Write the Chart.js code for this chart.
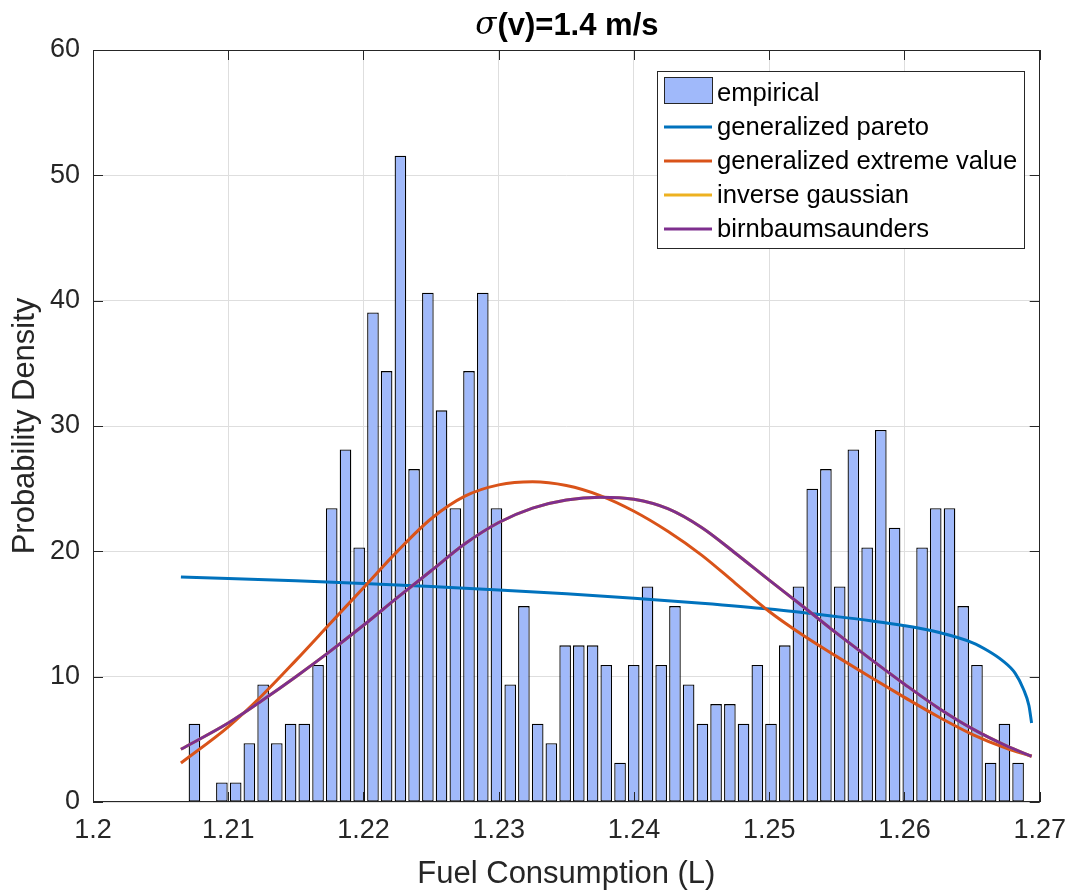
<!DOCTYPE html>
<html>
<head>
<meta charset="utf-8">
<script src="https://cdn.jsdelivr.net/npm/chart.js@4.4.1/dist/chart.umd.min.js"></script>
<style>
html,body{margin:0;padding:0;background:#ffffff;}
#wrap{width:1078px;height:895px;}
</style>
</head>
<body>
<div id="wrap"><canvas id="c" width="1078" height="895"></canvas></div>
<script>
// ---------- DATA ----------
const titleItalic = 'σ';
const titleRest = '(v)=1.4 m/s';
const xAxisTitle = 'Fuel Consumption (L)';
const yAxisTitle = 'Probability Density';
const seriesNames = ['empirical', 'generalized pareto', 'generalized extreme value', 'inverse gaussian', 'birnbaumsaunders'];

const binCenters = [
  1.20750, 1.20852, 1.20953, 1.21055, 1.21156, 1.21258, 1.21359, 1.21461, 1.21562, 1.21664,
  1.21765, 1.21867, 1.21968, 1.22070, 1.22171, 1.22273, 1.22374, 1.22476, 1.22577, 1.22679,
  1.22780, 1.22882, 1.22983, 1.23085, 1.23186, 1.23288, 1.23389, 1.23491, 1.23592, 1.23694,
  1.23795, 1.23897, 1.23998, 1.24100, 1.24201, 1.24303, 1.24404, 1.24506, 1.24607, 1.24709,
  1.24810, 1.24912, 1.25013, 1.25115, 1.25216, 1.25318, 1.25419, 1.25521, 1.25622, 1.25724,
  1.25825, 1.25927, 1.26028, 1.26130, 1.26231, 1.26333, 1.26434, 1.26536, 1.26637, 1.26739,
  1.26840
];
const empiricalDensity = [
  6.25, 0, 1.56, 1.56, 4.69, 9.38, 4.69, 6.25, 6.25, 10.94,
  23.44, 28.13, 20.31, 39.06, 34.38, 51.56, 26.56, 40.63, 31.25, 23.44,
  34.38, 40.63, 23.44, 9.38, 15.63, 6.25, 4.69, 12.5, 12.5, 12.5,
  10.94, 3.13, 10.94, 17.19, 10.94, 15.63, 9.38, 6.25, 7.81, 7.81,
  6.25, 10.94, 6.25, 12.5, 17.19, 25.0, 26.56, 17.19, 28.13, 20.31,
  29.69, 21.88, 14.06, 20.31, 23.44, 23.44, 15.63, 10.94, 3.13, 6.25,
  3.13
];

const paretoX = [1.2065, 1.2100, 1.2150, 1.2200, 1.2250, 1.2300, 1.2350, 1.2400, 1.2450, 1.2500,
                 1.2550, 1.2575, 1.2600, 1.2625, 1.2650, 1.2662, 1.2672, 1.2682, 1.2688, 1.2692,
                 1.2694];
const paretoY = [17.96, 17.84, 17.65, 17.44, 17.20, 16.92, 16.61, 16.26, 15.86, 15.39,
                 14.79, 14.46, 14.07, 13.54, 12.72, 12.05, 11.32, 10.25, 9.00, 7.70,
                 6.30];

const fitX = [1.2065, 1.2100, 1.2125, 1.2150, 1.2175, 1.2200, 1.2225, 1.2250, 1.2275, 1.2300,
              1.2325, 1.2350, 1.2375, 1.2400, 1.2425, 1.2450, 1.2475, 1.2500, 1.2525, 1.2550,
              1.2575, 1.2600, 1.2625, 1.2650, 1.2675, 1.2694];
const gevY = [3.11, 6.00, 8.50, 11.30, 14.20, 17.10, 20.00, 22.60, 24.40, 25.30,
              25.55, 25.25, 24.45, 23.20, 21.60, 19.70, 17.45, 15.20, 13.30, 11.60,
              9.95, 8.35, 6.80, 5.40, 4.30, 3.65];
const invGaussY = [4.21, 6.30, 8.10, 10.00, 12.00, 14.10, 16.30, 18.45, 20.60, 22.30,
                   23.45, 24.10, 24.32, 24.15, 23.40, 21.90, 19.85, 17.70, 15.60, 13.45,
                   11.40, 9.40, 7.50, 5.85, 4.50, 3.65];
const birnbaumY = [4.21, 6.30, 8.10, 10.00, 12.00, 14.10, 16.30, 18.45, 20.60, 22.30,
                   23.45, 24.10, 24.32, 24.15, 23.40, 21.90, 19.85, 17.70, 15.60, 13.45,
                   11.40, 9.40, 7.50, 5.85, 4.50, 3.65];

const xTickValues = [1.2, 1.21, 1.22, 1.23, 1.24, 1.25, 1.26, 1.27];
const xTickLabels = ['1.2', '1.21', '1.22', '1.23', '1.24', '1.25', '1.26', '1.27'];
const yTickValues = [0, 10, 20, 30, 40, 50, 60];
const yTickLabels = ['0', '10', '20', '30', '40', '50', '60'];

// ---------- STYLE ----------
const FONT = '"Liberation Sans", Arial, Helvetica, sans-serif';
const AX = '#262626';
const colors = {
  barFill: '#a0b9fa', barEdge: '#000000',
  pareto: '#0072BD', gev: '#D95319', invg: '#EDB120', bs: '#7E2F8E'
};

const pts = (xs, ys) => xs.map((v, i) => ({x: v, y: ys[i]}));

const decor = {
  id: 'decor',
  afterDraw(chart) {
    const {ctx, chartArea: a, scales: {x, y}} = chart;
    ctx.save();
    // axes box
    ctx.strokeStyle = AX; ctx.lineWidth = 1;
    ctx.strokeRect(Math.round(a.left) + 0.5, Math.round(a.top) + 0.5,
                   Math.round(a.right - a.left) - 1, Math.round(a.bottom - a.top) - 1);
    // inward ticks on all four sides
    ctx.beginPath();
    xTickValues.forEach(v => {
      const px = Math.round(x.getPixelForValue(v)) + 0.5;
      ctx.moveTo(px, a.bottom); ctx.lineTo(px, a.bottom - 10);
      ctx.moveTo(px, a.top); ctx.lineTo(px, a.top + 10);
    });
    yTickValues.forEach(v => {
      const py = Math.round(y.getPixelForValue(v)) + 0.5;
      ctx.moveTo(a.left, py); ctx.lineTo(a.left + 10, py);
      ctx.moveTo(a.right, py); ctx.lineTo(a.right - 10, py);
    });
    ctx.stroke();

    // title
    ctx.fillStyle = '#000';
    ctx.textBaseline = 'middle';
    const fItal = 'italic 31px "DejaVu Serif", "Liberation Serif", serif';
    const fBold = 'bold 31px ' + FONT;
    ctx.font = fItal; const w1 = ctx.measureText(titleItalic).width;
    ctx.font = fBold; const w2 = ctx.measureText(titleRest).width;
    const cx = (a.left + a.right) / 2;
    let sx = cx - (w1 + w2) / 2;
    ctx.textAlign = 'left';
    ctx.font = fItal; ctx.fillText(titleItalic, sx, 26);
    ctx.font = fBold; ctx.fillText(titleRest, sx + w1 + 1, 26);

    // axis titles
    ctx.fillStyle = AX;
    ctx.font = '31px ' + FONT;
    ctx.textAlign = 'center';
    ctx.fillText(xAxisTitle, cx, 874);
    ctx.save();
    ctx.translate(25, (a.top + a.bottom) / 2);
    ctx.rotate(-Math.PI / 2);
    ctx.fillText(yAxisTitle, 0, 0);
    ctx.restore();

    // legend
    const L = 657, T = 71, R = 1024, B = 248;
    ctx.fillStyle = '#ffffff';
    ctx.fillRect(L, T, R - L, B - T);
    ctx.strokeStyle = AX; ctx.lineWidth = 1;
    ctx.strokeRect(L + 0.5, T + 0.5, R - L, B - T);
    const rows = [93, 127, 161, 195, 229];
    const lineCols = [null, colors.pareto, colors.gev, colors.invg, colors.bs];
    ctx.font = '25.6px ' + FONT;
    ctx.textAlign = 'left';
    ctx.textBaseline = 'middle';
    rows.forEach((ry, i) => {
      if (i === 0) {
        ctx.fillStyle = colors.barFill;
        ctx.fillRect(664, 77, 48, 26);
        ctx.strokeStyle = '#262626'; ctx.lineWidth = 1;
        ctx.strokeRect(664.5, 77.5, 48, 26);
      } else {
        ctx.strokeStyle = lineCols[i]; ctx.lineWidth = 3;
        ctx.beginPath(); ctx.moveTo(664, ry); ctx.lineTo(712, ry); ctx.stroke();
      }
      ctx.fillStyle = '#000';
      ctx.fillText(seriesNames[i], 717, ry + 1);
    });
    ctx.restore();
  }
};

new Chart(document.getElementById('c'), {
  type: 'bar',
  data: {
    datasets: [
      {
        type: 'bar', label: seriesNames[0], data: pts(binCenters, empiricalDensity),
        backgroundColor: colors.barFill, borderColor: colors.barEdge, borderWidth: 1.3,
        borderSkipped: false, barPercentage: 0.85, categoryPercentage: 1.0, order: 5
      },
      { type: 'line', label: seriesNames[1], data: pts(paretoX, paretoY), borderColor: colors.pareto,
        borderWidth: 3, pointRadius: 0, cubicInterpolationMode: 'monotone', fill: false, order: 4 },
      { type: 'line', label: seriesNames[2], data: pts(fitX, gevY), borderColor: colors.gev,
        borderWidth: 3, pointRadius: 0, cubicInterpolationMode: 'monotone', fill: false, order: 3 },
      { type: 'line', label: seriesNames[3], data: pts(fitX, invGaussY), borderColor: colors.invg,
        borderWidth: 3, pointRadius: 0, cubicInterpolationMode: 'monotone', fill: false, order: 2 },
      { type: 'line', label: seriesNames[4], data: pts(fitX, birnbaumY), borderColor: colors.bs,
        borderWidth: 3, pointRadius: 0, cubicInterpolationMode: 'monotone', fill: false, order: 1 }
    ]
  },
  options: {
    responsive: false,
    devicePixelRatio: 1,
    animation: false,
    layout: { padding: { left: 0, right: 33, top: 50, bottom: 0 } },
    plugins: { legend: { display: false }, tooltip: { enabled: false }, title: { display: false } },
    scales: {
      x: {
        type: 'linear', min: 1.2, max: 1.27, offset: false,
        grid: { color: '#dedede', lineWidth: 1, drawTicks: false, offset: false },
        border: { display: false },
        afterBuildTicks: s => { s.ticks = xTickValues.map(v => ({value: v})); },
        afterFit: s => { s.height = 93; },
        ticks: {
          color: AX, font: { family: FONT, size: 27 }, padding: 12, maxRotation: 0, autoSkip: false,
          callback: (v, i) => xTickLabels[i]
        }
      },
      y: {
        type: 'linear', min: 0, max: 60,
        grid: { color: '#dedede', lineWidth: 1, drawTicks: false },
        border: { display: false },
        afterBuildTicks: s => { s.ticks = yTickValues.map(v => ({value: v})); },
        afterFit: s => { s.width = 93; },
        ticks: {
          color: AX, font: { family: FONT, size: 27 }, padding: 13,
          callback: (v, i) => yTickLabels[i]
        }
      }
    }
  },
  plugins: [decor]
});
</script>
</body>
</html>
